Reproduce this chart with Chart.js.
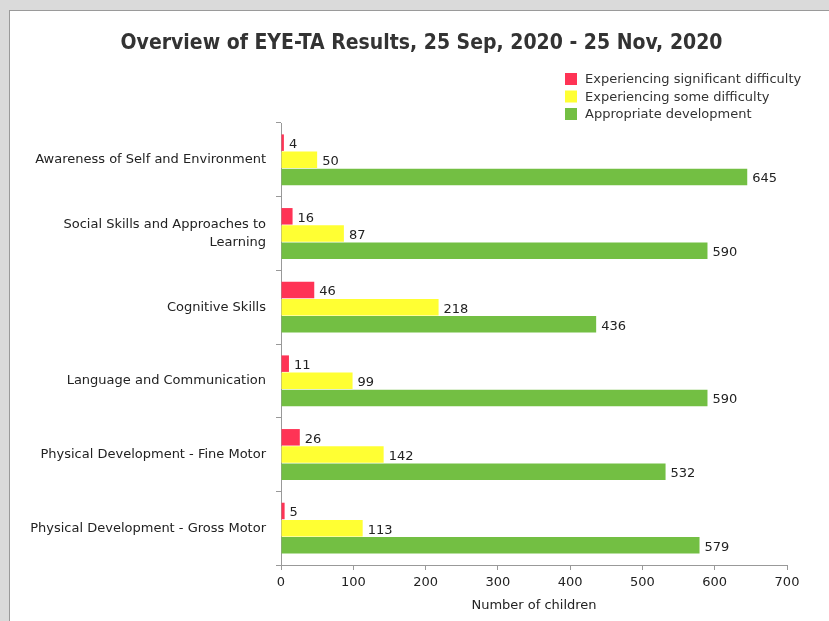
<!DOCTYPE html>
<html>
<head>
<meta charset="utf-8">
<script src="https://cdn.jsdelivr.net/npm/chart.js@4"></script>
<style>
  html, body { margin: 0; padding: 0; background: #dadada; }
  #panel {
    position: absolute; left: 9px; top: 10px; width: 820px; height: 611px;
    background: #fff; border-left: 1px solid #9a9a9a; border-top: 1px solid #9a9a9a;
  }
  #wrap { width: 819px; height: 610px; }
</style>
</head>
<body>
<div id="panel"><div id="wrap"><canvas id="myChart"></canvas></div></div>
<script>
// data
const categories = [
  "Awareness of Self and Environment",
  ["Social Skills and Approaches to", "Learning"],
  "Cognitive Skills",
  "Language and Communication",
  "Physical Development - Fine Motor",
  "Physical Development - Gross Motor",
];
const significant = [4, 16, 46, 11, 26, 5];
const some = [50, 87, 218, 99, 142, 113];
const appropriate = [645, 590, 436, 590, 532, 579];
const xTicks = [0, 100, 200, 300, 400, 500, 600, 700];
const chartTitle = "Overview of EYE-TA Results, 25 Sep, 2020 - 25 Nov, 2020";

const font = "'DejaVu Sans', sans-serif";

// value labels at the end of each bar
const valueLabels = {
  id: "valueLabels",
  afterDatasetsDraw(chart) {
    const c = chart.ctx;
    c.save();
    c.font = "13px " + font;
    c.fillStyle = "#222";
    c.textAlign = "left";
    c.textBaseline = "middle";
    chart.data.datasets.forEach((ds, i) => {
      chart.getDatasetMeta(i).data.forEach((bar, j) => {
        c.fillText(ds.data[j], bar.x + 5, bar.y + 2);
      });
    });
    c.restore();
  },
};

// title + vertical legend at top right
const headerAndLegend = {
  id: "headerAndLegend",
  afterDraw(chart) {
    const c = chart.ctx;
    c.save();
    c.font = "bold 21px 'DejaVu Sans Condensed', 'DejaVu Sans', sans-serif";
    c.fillStyle = "#333";
    c.textAlign = "center";
    c.textBaseline = "middle";
    c.fillText(chartTitle, 411.5, 33);

    c.font = "13px " + font;
    c.textAlign = "left";
    chart.data.datasets.forEach((ds, i) => {
      const y = 68 + i * 17.5;
      c.fillStyle = ds.backgroundColor;
      c.fillRect(555, y - 6, 12, 12);
      c.fillStyle = "#333";
      c.fillText(ds.label, 575, y + 1);
    });
    c.restore();
  },
};

const ctx = document.getElementById("myChart");
new Chart(ctx, {
  type: "bar",
  data: {
    labels: categories,
    datasets: [
      { label: "Experiencing significant difficulty", data: significant, backgroundColor: "#ff3355" },
      { label: "Experiencing some difficulty", data: some, backgroundColor: "#ffff33" },
      { label: "Appropriate development", data: appropriate, backgroundColor: "#73bf43" },
    ],
  },
  options: {
    indexAxis: "y",
    responsive: true,
    maintainAspectRatio: false,
    animation: false,
    categoryPercentage: 0.7,
    barPercentage: 0.96,
    layout: { padding: { left: 0, right: 42, top: 112, bottom: 0 } },
    plugins: {
      legend: { display: false },
      tooltip: { enabled: false },
      title: { display: false },
    },
    scales: {
      x: {
        min: 0,
        max: 700,
        afterBuildTicks: (s) => { s.ticks = xTicks.map((v) => ({ value: v })); },
        afterFit: (s) => { s.height = 56; },
        grid: { drawOnChartArea: false, tickLength: 5, color: "#999" },
        border: { color: "#999" },
        ticks: { color: "#222", padding: 5, font: { family: font, size: 13 } },
        title: {
          display: true,
          text: "Number of children",
          color: "#222",
          font: { family: font, size: 13 },
          padding: { top: 4, bottom: 8 },
        },
      },
      y: {
        afterFit: (s) => { s.width = 271; },
        grid: { drawOnChartArea: false, tickLength: 5, color: "#999", offset: true },
        border: { color: "#999" },
        ticks: { color: "#222", padding: 10, font: { family: font, size: 13, lineHeight: 1.38 } },
      },
    },
  },
  plugins: [valueLabels, headerAndLegend],
});
</script>
</body>
</html>
